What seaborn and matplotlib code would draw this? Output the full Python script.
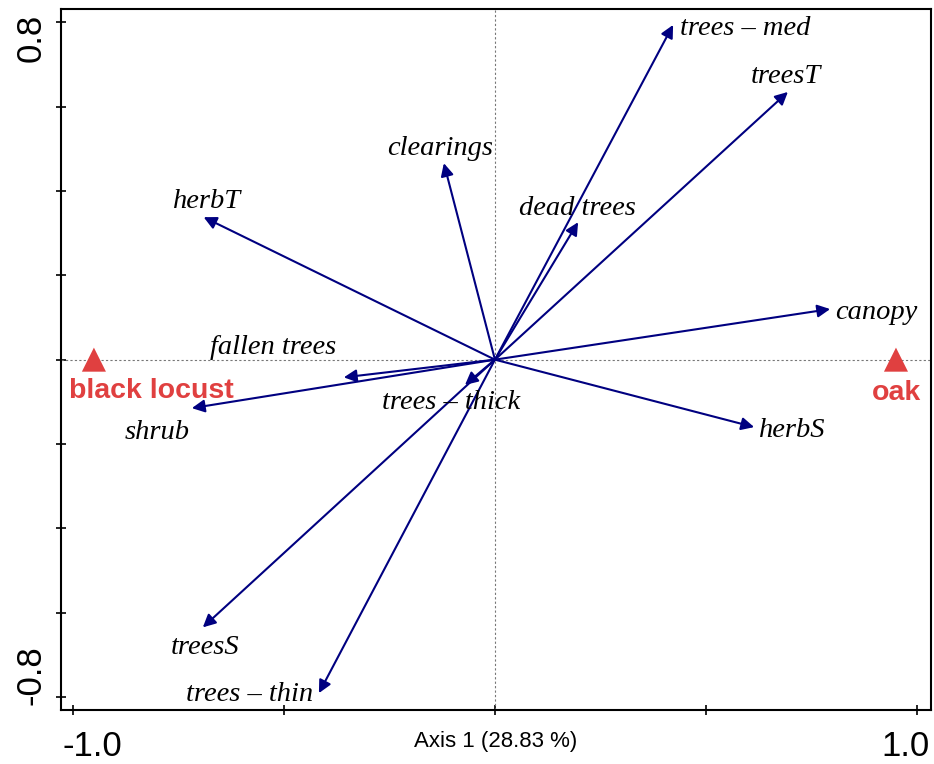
import numpy as np
import pandas as pd
import seaborn as sns
from matplotlib import pyplot as plt
from matplotlib.transforms import ScaledTranslation

# environmental variables (arrows) - scores on axis 1 / axis 2
variables = ['trees – med', 'treesT', 'clearings', 'dead trees', 'herbT', 'canopy',
             'herbS', 'fallen trees', 'shrub', 'trees – thick', 'treesS', 'trees – thin']
axis1 = [0.422, 0.694, -0.121, 0.197, -0.690, 0.794, 0.614, -0.358, -0.718, -0.071, -0.692, -0.417]
axis2 = [0.794, 0.635, 0.466, 0.326, 0.338, 0.120, -0.160, -0.042, -0.115, -0.060, -0.635, -0.791]

# forest types (centroids)
groups = ['black locust', 'oak']
group_x = [-0.95, 0.95]
group_y = [0.0, 0.0]

df = pd.DataFrame({'var': variables, 'ax1': axis1, 'ax2': axis2})
grp = pd.DataFrame({'group': groups, 'x': group_x, 'y': group_y})

# label placement: (dx, dy) in pixels from arrow tip, horizontal alignment
label_pos = {
    'trees – med': (7, -4, 'left'),
    'treesT': (-2, 15, 'center'),
    'clearings': (-4, 15, 'center'),
    'dead trees': (-1, 14, 'center'),
    'herbT': (3, 16, 'center'),
    'canopy': (5, -3, 'left'),
    'herbS': (5, -3, 'left'),
    'fallen trees': (-71, 30, 'center'),
    'shrub': (-35, -24, 'center'),
    'trees – thick': (-14, -18, 'center'),
    'treesS': (2, -20, 'center'),
    'trees – thin': (-6, -1, 'right'),
}
group_lab = {'black locust': (57, -31), 'oak': (1, -33)}

sns.set_style("ticks")
plt.rcParams['font.family'] = ['Liberation Sans', 'DejaVu Sans']
# plain black text and ticks
plt.rcParams['text.color'] = 'black'
plt.rcParams['axes.labelcolor'] = 'black'
plt.rcParams['xtick.color'] = 'black'
plt.rcParams['ytick.color'] = 'black'

fig = plt.figure(figsize=(9.34, 7.64), dpi=100)
ax = fig.add_axes([0.0653, 0.0707, 0.9315, 0.9171])

# dotted zero lines
ax.axhline(0, color='#777777', lw=0.8, ls=(0, (2, 2)), zorder=1)
ax.axvline(0, color='#777777', lw=0.8, ls=(0, (2, 2)), zorder=1)

# arrows + labels
for _, r in df.iterrows():
    ax.annotate('', xy=(r['ax1'], r['ax2']), xytext=(0, 0),
                arrowprops=dict(arrowstyle='-|>', color='#000080', lw=1.5,
                                mutation_scale=19, shrinkA=0, shrinkB=0),
                zorder=3)
    dx, dy, ha = label_pos[r['var']]
    ax.annotate(r['var'], xy=(r['ax1'], r['ax2']), xytext=(dx, dy),
                textcoords='offset pixels', ha=ha, va='center',
                fontsize=20.5, style='italic', family='Liberation Serif',
                color='black', zorder=4)

# group centroids
sns.scatterplot(data=grp, x='x', y='y', marker='^', s=300, color='#E04040',
                edgecolor='none', ax=ax, zorder=5, legend=False)
for _, r in grp.iterrows():
    dx, dy = group_lab[r['group']]
    ax.annotate(r['group'], xy=(r['x'], r['y']), xytext=(dx, dy),
                textcoords='offset pixels', ha='center', va='center',
                fontsize=20.5, fontweight='bold', color='#E04040')

ax.set_xlim(-1.028, 1.033)
ax.set_ylim(-0.831, 0.831)

ax.set_xticks([-1.0, -0.5, 0, 0.5, 1.0])
ax.set_xticklabels(['-1.0', '', '', '', '1.0'])
ax.set_yticks([-0.8, -0.6, -0.4, -0.2, 0, 0.2, 0.4, 0.6, 0.8])
ax.set_yticklabels(['-0.8', '', '', '', '', '', '', '', '0.8'])
ax.tick_params(axis='both', direction='inout', length=7, width=1.2, labelsize=25,
               colors='black')
ax.tick_params(axis='x', pad=11)
ax.tick_params(axis='y', pad=6, labelrotation=90)
for lab in ax.get_yticklabels():
    lab.set_va('center')

# nudge the end labels inward like the original
shifts_x = {'-1.0': 20, '1.0': -12}
for lab in ax.get_xticklabels():
    t = lab.get_text()
    if t in shifts_x:
        lab.set_transform(lab.get_transform() + ScaledTranslation(shifts_x[t] / 100, 0, fig.dpi_scale_trans))
shifts_y = {'0.8': -15, '-0.8': 22}
for lab in ax.get_yticklabels():
    t = lab.get_text()
    if t in shifts_y:
        lab.set_transform(lab.get_transform() + ScaledTranslation(0, shifts_y[t] / 100, fig.dpi_scale_trans))

ax.set_xlabel('Axis 1 (28.83 %)', fontsize=16, color='black')
ax.xaxis.set_label_coords(0.499, -0.03)
ax.set_ylabel('')

for s in ax.spines.values():
    s.set_linewidth(1.5)
    s.set_color('black')

fig.savefig('out.png', dpi=100)
